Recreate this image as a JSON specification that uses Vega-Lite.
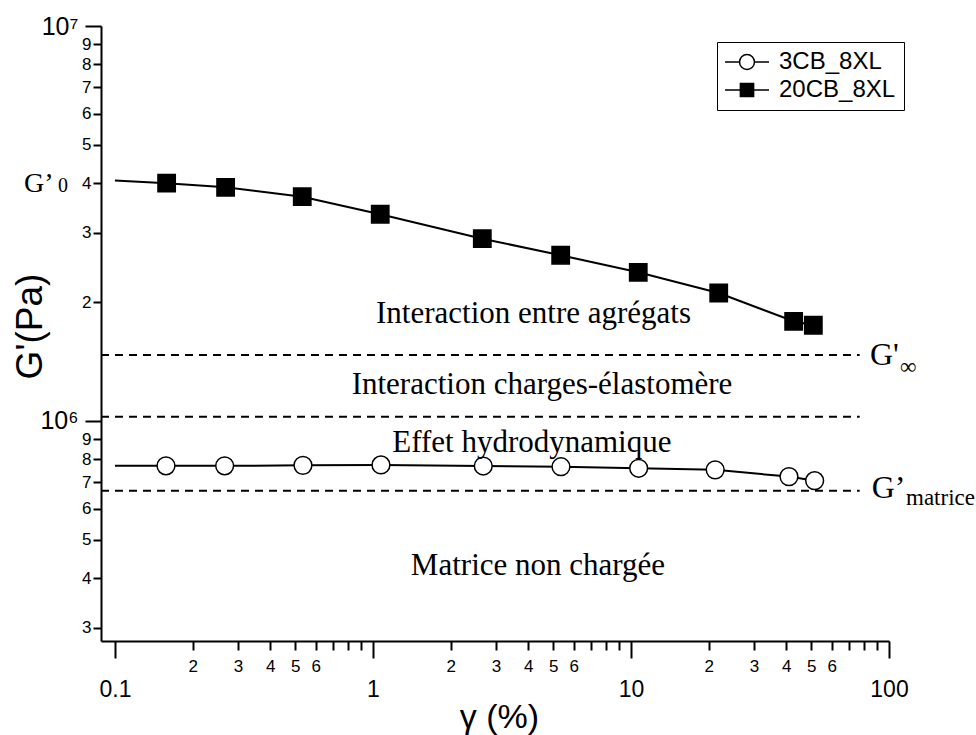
{
  "$schema": "https://vega.github.io/schema/vega-lite/v6.json",
  "width": 788,
  "height": 615,
  "autosize": "none",
  "padding": {"left": 101, "top": 26, "right": 87, "bottom": 94},
  "background": "white",
  "config": {
    "view": {"stroke": null},
    "axis": {
      "domainColor": "black", "domainWidth": 2, "tickColor": "black", "tickWidth": 2,
      "labelColor": "black", "labelFont": "Liberation Sans", "labelFontSize": 17, "titleFont": "Liberation Sans",
      "titleColor": "black", "titleFontWeight": "normal", "grid": false, "labelOverlap": false, "labelFlush": false
    }
  },
  "resolve": {"scale": {"shape": "independent", "fill": "independent", "stroke": "independent"}},
  "datasets": {
    "series": [
      {"series": "20CB_8XL", "x": 0.1, "y": 4060000},
      {"series": "20CB_8XL", "x": 0.1586, "y": 4000000},
      {"series": "20CB_8XL", "x": 0.2685, "y": 3905000},
      {"series": "20CB_8XL", "x": 0.532, "y": 3697000},
      {"series": "20CB_8XL", "x": 1.067, "y": 3337000},
      {"series": "20CB_8XL", "x": 2.653, "y": 2894000},
      {"series": "20CB_8XL", "x": 5.34, "y": 2628000},
      {"series": "20CB_8XL", "x": 10.67, "y": 2379000},
      {"series": "20CB_8XL", "x": 21.88, "y": 2109000},
      {"series": "20CB_8XL", "x": 42.7, "y": 1788000},
      {"series": "20CB_8XL", "x": 50.9, "y": 1747000},
      {"series": "3CB_8XL", "x": 0.1, "y": 770000},
      {"series": "3CB_8XL", "x": 0.1577, "y": 770000},
      {"series": "3CB_8XL", "x": 0.2662, "y": 770000},
      {"series": "3CB_8XL", "x": 0.5354, "y": 772000},
      {"series": "3CB_8XL", "x": 1.074, "y": 774000},
      {"series": "3CB_8XL", "x": 2.676, "y": 769000},
      {"series": "3CB_8XL", "x": 5.354, "y": 766000},
      {"series": "3CB_8XL", "x": 10.71, "y": 759000},
      {"series": "3CB_8XL", "x": 21.2, "y": 752000},
      {"series": "3CB_8XL", "x": 40.96, "y": 723000},
      {"series": "3CB_8XL", "x": 51.5, "y": 706000}
    ],
    "levels": [
      {"y": 1469000, "x": 0.0883, "x2": 77},
      {"y": 1025400, "x": 0.0883, "x2": 77},
      {"y": 666000, "x": 0.0883, "x2": 77}
    ],
    "regions": [
      {"label": "Interaction entre agrégats", "x": 4.19, "y": 1767000},
      {"label": "Interaction charges-élastomère", "x": 4.52, "y": 1170000},
      {"label": "Effet hydrodynamique", "x": 4.13, "y": 836000},
      {"label": "Matrice non chargée", "x": 4.36, "y": 407000}
    ],
    "gbig": [
      {"label": "G'", "x": 84.4, "y": 1386000},
      {"label": "G’", "x": 85.7, "y": 637000}
    ],
    "gzero": [
      {"label": "G’", "x": 0.0444, "y": 3806000}
    ],
    "subs": [
      {"label": "∞", "x": 110.3, "y": 1315000},
      {"label": "matrice", "x": 116.4, "y": 613000}
    ],
    "subzero": [
      {"label": "0", "x": 0.0601, "y": 3793000}
    ]
  },
  "encoding": {
    "x": {
      "field": "x", "type": "quantitative", "title": "γ (%)",
      "scale": {"type": "log", "domain": [0.0883, 100], "nice": false},
      "axis": {
        "values": [0.1,0.2,0.3,0.4,0.5,0.6,0.7,0.8,0.9,1,2,3,4,5,6,7,8,9,10,20,30,40,50,60,70,80,90,100],
        "labelExpr": "datum.value == 0.1 ? '0.1' : datum.value == 1 ? '1' : datum.value == 10 ? '10' : datum.value == 100 ? '100' : ((datum.value < 1 ? round(datum.value*10) : datum.value < 10 ? round(datum.value) : round(datum.value/10)) <= 6 ? '' + (datum.value < 1 ? round(datum.value*10) : datum.value < 10 ? round(datum.value) : round(datum.value/10)) : '')",
        "labelFontSize": {"condition": {"test": "datum.value == 0.1 || datum.value == 1 || datum.value == 10 || datum.value == 100", "value": 23}, "value": 17},
        "tickSize": {"condition": {"test": "datum.value == 0.1 || datum.value == 1 || datum.value == 10 || datum.value == 100", "value": 17}, "value": 9},
        "labelPadding": {"condition": {"test": "datum.value == 0.1 || datum.value == 1 || datum.value == 10 || datum.value == 100", "value": 20}, "value": 8},
        "titleFontSize": 34, "titleX": 398, "titleY": 76, "titleAlign": "center", "titleBaseline": "middle"
      }
    },
    "y": {
      "field": "y", "type": "quantitative", "title": "G'(Pa)",
      "scale": {"type": "log", "domain": [277300, 10000000], "nice": false},
      "axis": {
        "values": [300000,400000,500000,600000,700000,800000,900000,1000000,2000000,3000000,4000000,5000000,6000000,7000000,8000000,9000000,10000000],
        "labelExpr": "datum.value == 10000000 ? '10⁷' : datum.value == 1000000 ? '10⁶' : datum.value < 1000000 ? format(datum.value/100000, '.0f') : format(datum.value/1000000, '.0f')",
        "labelFontSize": {"condition": {"test": "datum.value == 1000000 || datum.value == 10000000", "value": 25}, "value": 17},
        "tickSize": {"condition": {"test": "datum.value == 1000000 || datum.value == 10000000", "value": 16}, "value": 8},
        "labelPadding": {"condition": {"test": "datum.value == 1000000 || datum.value == 10000000", "value": 7}, "value": 2},
        "titleFontSize": 37, "titleX": -71, "titleY": 300, "titleAngle": -90, "titleAlign": "center", "titleBaseline": "middle"
      }
    }
  },
  "layer": [
    {
      "data": {"name": "levels"},
      "mark": {"type": "rule", "color": "black", "strokeWidth": 2, "strokeDash": [8, 6]},
      "encoding": {"x2": {"field": "x2"}}
    },
    {
      "data": {"name": "series"},
      "mark": {"type": "line", "color": "black", "strokeWidth": 2},
      "encoding": {"detail": {"field": "series"}}
    },
    {
      "data": {"name": "series"},
      "transform": [{"filter": "datum.x > 0.12"}],
      "mark": {"type": "point", "filled": true, "stroke": "black", "strokeWidth": 1.5, "opacity": 1},
      "encoding": {
        "fill": {"condition": {"test": "datum.series === '3CB_8XL'", "value": "white"}, "value": "black"},
        "size": {"condition": {"test": "datum.series === '3CB_8XL'", "value": 317}, "value": 300},
        "shape": {
          "field": "series", "type": "nominal",
          "scale": {"domain": ["3CB_8XL", "20CB_8XL"], "range": ["circle", "square"]},
          "legend": null
        }
      }
    },
    {
      "data": {"name": "series"},
      "transform": [{"filter": "datum.x < 0"}],
      "mark": {"type": "point", "filled": true, "strokeWidth": 1.5, "opacity": 1},
      "encoding": {
        "fill": {
          "field": "series", "type": "nominal",
          "scale": {"domain": ["3CB_8XL", "20CB_8XL"], "range": ["white", "black"]},
          "legend": {"title": null}
        },
        "stroke": {
          "field": "series", "type": "nominal",
          "scale": {"domain": ["3CB_8XL", "20CB_8XL"], "range": ["black", "black"]},
          "legend": {"title": null}
        },
        "shape": {
          "field": "series", "type": "nominal",
          "scale": {"domain": ["3CB_8XL", "20CB_8XL"], "range": ["M-2,0H-0.68M0.68,0H2M-0.68,0A0.68,0.68,0,1,0,0.68,0A0.68,0.68,0,1,0,-0.68,0Z", "M-2,0H-0.6M0.6,0H2M-0.6,-0.6H0.6V0.6H-0.6Z"]},
          "legend": {
            "title": null, "orient": "none", "legendX": 616, "legendY": 16,
            "labelFont": "Liberation Sans", "labelFontSize": 24, "labelColor": "black",
            "strokeColor": "black", "fillColor": "white", "padding": 8,
            "symbolSize": 484, "symbolOffset": 10, "labelOffset": 20, "rowPadding": 4,
            "symbolStrokeWidth": 1.5, "symbolOpacity": 1
          }
        }
      }
    },
    {
      "data": {"name": "regions"},
      "mark": {"type": "text", "font": "Liberation Serif", "fontSize": 31, "align": "center", "baseline": "alphabetic", "color": "black"},
      "encoding": {"text": {"field": "label"}}
    },
    {
      "data": {"name": "gbig"},
      "mark": {"type": "text", "font": "Liberation Serif", "fontSize": 32, "align": "left", "baseline": "alphabetic", "color": "black"},
      "encoding": {"text": {"field": "label"}}
    },
    {
      "data": {"name": "gzero"},
      "mark": {"type": "text", "font": "Liberation Serif", "fontSize": 28, "align": "left", "baseline": "alphabetic", "color": "black"},
      "encoding": {"text": {"field": "label"}}
    },
    {
      "data": {"name": "subs"},
      "mark": {"type": "text", "font": "Liberation Serif", "fontSize": 23, "align": "left", "baseline": "alphabetic", "color": "black"},
      "encoding": {"text": {"field": "label"}}
    },
    {
      "data": {"name": "subzero"},
      "mark": {"type": "text", "font": "Liberation Serif", "fontSize": 20, "align": "left", "baseline": "alphabetic", "color": "black"},
      "encoding": {"text": {"field": "label"}}
    }
  ]
}
